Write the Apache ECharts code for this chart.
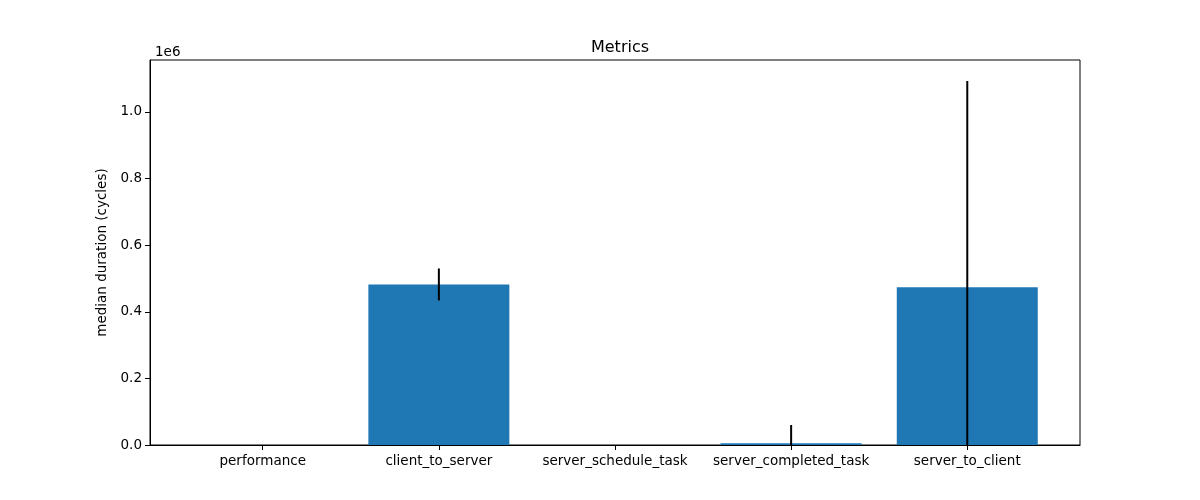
<!DOCTYPE html>
<html><head><meta charset="utf-8">
<script src="https://cdn.jsdelivr.net/npm/echarts@6/dist/echarts.min.js"></script>
<style>html,body{margin:0;padding:0;background:#fff}#c{width:1200px;height:500px}</style>
</head><body><div id="c"></div>
<script>
const categories = ['performance','client_to_server','server_schedule_task','server_completed_task','server_to_client'];
const medians = [0, 482000, 0, 5000, 474000];
const errors = [0, 48000, 0, 55000, 619000];
const yTicks = [0, 200000, 400000, 600000, 800000, 1000000];

const chart = echarts.init(document.getElementById('c'));
const font = 'DejaVu Sans';
const idx = categories.map((_, i) => i);
chart.setOption({
  animation: false,
  backgroundColor: '#fff',
  textStyle: { fontFamily: font },
  title: [
    { text: 'Metrics', left: 615, top: 35, textAlign: 'center',
      textStyle: { fontFamily: font, fontSize: 16, fontWeight: 'normal', color: '#000' } },
    { text: '1e6', left: 150, top: 40,
      textStyle: { fontFamily: font, fontSize: 13.5, fontWeight: 'normal', color: '#000' } }
  ],
  grid: { left: 150, right: 120, top: 60, bottom: 55, show: true, borderColor: '#000', borderWidth: 1, containLabel: false },
  xAxis: {
    type: 'value', min: -0.64, max: 4.64,
    axisLine: { show: true, onZero: false, lineStyle: { color: '#000', width: 1 } },
    axisTick: { show: true, customValues: idx, length: 5, lineStyle: { color: '#000' } },
    axisLabel: { customValues: idx, formatter: v => categories[Math.round(v)] || '',
      color: '#000', fontSize: 13.5, fontFamily: font, margin: 9 },
    splitLine: { show: false }
  },
  yAxis: {
    type: 'value', min: 0, max: 1156000, interval: 200000,
    name: 'median duration (cycles)', nameLocation: 'middle', nameGap: 35,
    nameTextStyle: { color: '#000', fontSize: 13.5, fontFamily: font },
    axisLine: { show: true, onZero: false, lineStyle: { color: '#000', width: 1 } },
    axisTick: { show: true, customValues: yTicks, length: 5, lineStyle: { color: '#000' } },
    axisLabel: { customValues: yTicks, formatter: v => (v / 1e6).toFixed(1),
      color: '#000', fontSize: 13.5, fontFamily: font, margin: 8 },
    splitLine: { show: false }
  },
  series: [
    { type: 'bar', data: medians.map((v, i) => [i, v]), barWidth: 141,
      itemStyle: { color: '#1f77b4' } },
    { type: 'custom', clip: true,
      data: medians.map((v, i) => [i, v - errors[i], v + errors[i]]),
      renderItem: (params, api) => {
        if (api.value(2) === api.value(1)) return null;
        const lo = api.coord([api.value(0), api.value(1)]);
        const hi = api.coord([api.value(0), api.value(2)]);
        return { type: 'line', shape: { x1: lo[0], y1: lo[1], x2: hi[0], y2: hi[1] },
          style: { stroke: '#000', lineWidth: 2 } };
      },
      z: 5 }
  ]
});
</script></body></html>
